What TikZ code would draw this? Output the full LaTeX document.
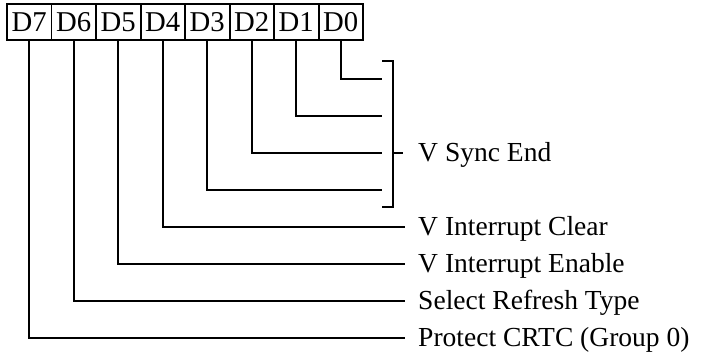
\documentclass[tikz,border=0pt]{standalone}
\usepackage{fontspec}
\setmainfont{Liberation Serif}
\usetikzlibrary{positioning}

\begin{document}
\begin{tikzpicture}[x=0.03cm,y=-0.03cm,
    bit/.style={draw,line width=1.7pt,outer sep=0pt,inner sep=0pt,minimum width=1.335cm,minimum height=1.08cm,font=\fontsize{24.5}{27}\selectfont},
    lbl/.style={anchor=west,inner xsep=0.39cm,inner ysep=0pt,text height=15.2pt,text depth=0pt,font=\fontsize{23.5}{27}\selectfont},
    wire/.style={line width=1.7pt}]
    \useasboundingbox (0,0) rectangle (706,354);

    \node [bit] (d7) at (29.25,22) {D7};
    \node [bit,right=0pt of d7] (d6) {D6};
    \node [bit,right=0pt of d6] (d5) {D5};
    \node [bit,right=0pt of d5] (d4) {D4};
    \node [bit,right=0pt of d4] (d3) {D3};
    \node [bit,right=0pt of d3] (d2) {D2};
    \node [bit,right=0pt of d2] (d1) {D1};
    \node [bit,right=0pt of d1] (d0) {D0};

    \coordinate (e0) at (382,79);
    \coordinate (e1) at (382,116);
    \coordinate (e2) at (382,153);
    \coordinate (e3) at (382,190);

    \draw [wire] (d0.south) |- (e0);
    \draw [wire] (d1.south) |- (e1);
    \draw [wire] (d2.south) |- (e2);
    \draw [wire] (d3.south) |- (e3);

    % bracket for D3..D0
    \coordinate (btop) at (382,61);
    \coordinate (bbot) at (382,207);
    \coordinate (bmid) at (393,153);
    \draw [wire] (btop) -| (bmid) |- (bbot);

    \node [lbl] (lsync) at (405,153) {V Sync End};
    \node [lbl] (lclear) at (405,227) {V Interrupt Clear};
    \node [lbl] (lenable) at (405,264) {V Interrupt Enable};
    \node [lbl] (lrefresh) at (405,301) {Select Refresh Type};
    \node [lbl] (lprotect) at (405,338) {Protect CRTC (Group 0)};

    \draw [wire] (bmid) -- ([xshift=-0.06cm]lsync.west);
    \draw [wire] (d4.south) |- (lclear.west);
    \draw [wire] (d5.south) |- (lenable.west);
    \draw [wire] (d6.south) |- (lrefresh.west);
    \draw [wire] (d7.south) |- (lprotect.west);
\end{tikzpicture}
\end{document}
